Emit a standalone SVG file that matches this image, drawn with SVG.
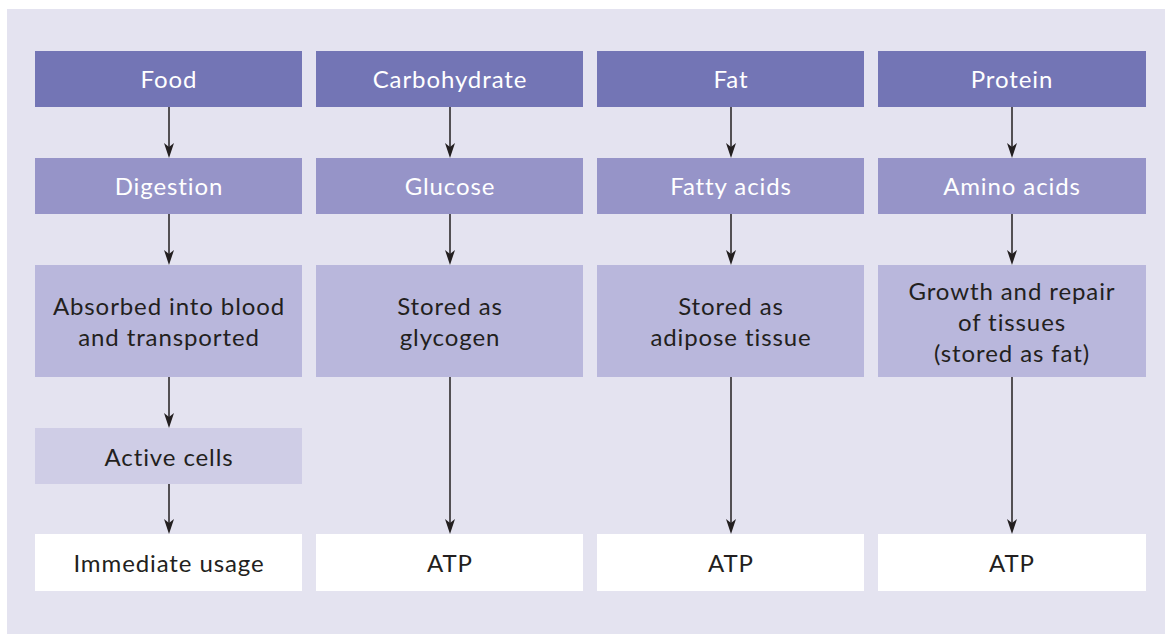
<svg xmlns="http://www.w3.org/2000/svg" width="1165" height="634" viewBox="0 0 1165 634">
<defs>
<style>
.t{font-family:Lato,"Noto Sans","Liberation Sans",sans-serif;font-size:24px;letter-spacing:0.9px;text-anchor:middle;fill:#231f20}
.w{fill:#ffffff}
.h{fill:#7375b5}
.s{fill:#9694c8}
.m{fill:#b9b7dc}
.a{fill:#cfcde6}
.o{fill:#ffffff}
.c{stroke:#231f20;stroke-width:1.5;fill:none}
</style>
</defs>
<rect x="0" y="0" width="1165" height="634" fill="#ffffff"/>
<rect x="7" y="9" width="1158" height="625" fill="#e4e3f0"/>
<g id="connectors">
<line class="c" x1="169" y1="107" x2="169" y2="150"/>
<line class="c" x1="169" y1="214" x2="169" y2="257"/>
<line class="c" x1="169" y1="377" x2="169" y2="420"/>
<line class="c" x1="169" y1="484" x2="169" y2="526"/>
<line class="c" x1="450" y1="107" x2="450" y2="150"/>
<line class="c" x1="450" y1="214" x2="450" y2="257"/>
<line class="c" x1="450" y1="377" x2="450" y2="526"/>
<line class="c" x1="731" y1="107" x2="731" y2="150"/>
<line class="c" x1="731" y1="214" x2="731" y2="257"/>
<line class="c" x1="731" y1="377" x2="731" y2="526"/>
<line class="c" x1="1012" y1="107" x2="1012" y2="150"/>
<line class="c" x1="1012" y1="214" x2="1012" y2="257"/>
<line class="c" x1="1012" y1="377" x2="1012" y2="526"/>
<g fill="#231f20">
<path d="M164,143 L169,147 L174,143 L169,158 Z"/>
<path d="M164,250 L169,254 L174,250 L169,265 Z"/>
<path d="M164,413 L169,417 L174,413 L169,428 Z"/>
<path d="M164,519 L169,523 L174,519 L169,534 Z"/>
<path d="M445,143 L450,147 L455,143 L450,158 Z"/>
<path d="M445,250 L450,254 L455,250 L450,265 Z"/>
<path d="M445,519 L450,523 L455,519 L450,534 Z"/>
<path d="M726,143 L731,147 L736,143 L731,158 Z"/>
<path d="M726,250 L731,254 L736,250 L731,265 Z"/>
<path d="M726,519 L731,523 L736,519 L731,534 Z"/>
<path d="M1007,143 L1012,147 L1017,143 L1012,158 Z"/>
<path d="M1007,250 L1012,254 L1017,250 L1012,265 Z"/>
<path d="M1007,519 L1012,523 L1017,519 L1012,534 Z"/>
</g>
</g>
<g id="food"><rect class="h" x="35" y="51" width="267" height="56"/><text class="t w" x="169" y="88">Food</text></g>
<g id="digestion"><rect class="s" x="35" y="158" width="267" height="56"/><text class="t w" x="169" y="195">Digestion</text></g>
<g id="absorbed"><rect class="m" x="35" y="265" width="267" height="112"/><text class="t" x="169" y="315">Absorbed into blood</text><text class="t" x="169" y="346">and transported</text></g>
<g id="active-cells"><rect class="a" x="35" y="428" width="267" height="56"/><text class="t" x="169" y="466">Active cells</text></g>
<g id="immediate-usage"><rect class="o" x="35" y="534" width="267" height="57"/><text class="t" x="169" y="572">Immediate usage</text></g>
<g id="carbohydrate"><rect class="h" x="316" y="51" width="267" height="56"/><text class="t w" x="450" y="88">Carbohydrate</text></g>
<g id="glucose"><rect class="s" x="316" y="158" width="267" height="56"/><text class="t w" x="450" y="195">Glucose</text></g>
<g id="glycogen"><rect class="m" x="316" y="265" width="267" height="112"/><text class="t" x="450" y="315">Stored as</text><text class="t" x="450" y="346">glycogen</text></g>
<g id="atp-carb"><rect class="o" x="316" y="534" width="267" height="57"/><text class="t" x="450" y="572">ATP</text></g>
<g id="fat"><rect class="h" x="597" y="51" width="267" height="56"/><text class="t w" x="731" y="88">Fat</text></g>
<g id="fatty-acids"><rect class="s" x="597" y="158" width="267" height="56"/><text class="t w" x="731" y="195">Fatty acids</text></g>
<g id="adipose"><rect class="m" x="597" y="265" width="267" height="112"/><text class="t" x="731" y="315">Stored as</text><text class="t" x="731" y="346">adipose tissue</text></g>
<g id="atp-fat"><rect class="o" x="597" y="534" width="267" height="57"/><text class="t" x="731" y="572">ATP</text></g>
<g id="protein"><rect class="h" x="878" y="51" width="268" height="56"/><text class="t w" x="1012" y="88">Protein</text></g>
<g id="amino-acids"><rect class="s" x="878" y="158" width="268" height="56"/><text class="t w" x="1012" y="195">Amino acids</text></g>
<g id="growth"><rect class="m" x="878" y="265" width="268" height="112"/><text class="t" x="1012" y="300">Growth and repair</text><text class="t" x="1012" y="331">of tissues</text><text class="t" x="1012" y="362">(stored as fat)</text></g>
<g id="atp-protein"><rect class="o" x="878" y="534" width="268" height="57"/><text class="t" x="1012" y="572">ATP</text></g>
</svg>
